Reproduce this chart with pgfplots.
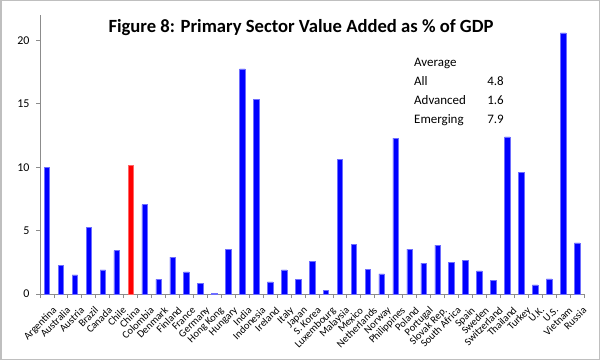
\documentclass[border=0pt]{standalone}
\usepackage{fontspec}
\setmainfont{Carlito}
\usepackage{pgfplots}
\pgfplotsset{compat=1.18}
\definecolor{barblue}{RGB}{0,0,255}
\definecolor{baredge}{RGB}{110,110,255}
\definecolor{axisgray}{RGB}{140,140,140}
\begin{document}
\begin{tikzpicture}
\useasboundingbox (0,0) rectangle (600bp,360bp);
\fill[white] (0,0) rectangle (600bp,360bp);
\draw[black!25, line width=1.5bp] (0.75bp,0.75bp) rectangle (599.25bp,359.25bp);
\begin{axis}[
  at={(40bp,66bp)}, anchor=south west,
  scale only axis, width=544bp, height=279bp,
  xmin=-0.5, xmax=38.5, ymin=0, ymax=22,
  axis lines*=left,
  axis line style={axisgray, line width=0.8bp},
  ybar, bar width=5.5bp, bar shift=0pt,
  ytick={0,5,10,15,20},
  yticklabel style={font=\fontsize{12}{12}\selectfont, xshift=-3bp},
  y tick style={axisgray, line width=0.8bp},
  tick align=outside, major tick length=4bp,
  xtick={0,...,38},
  x tick style={draw=none},
  xticklabels={Argentina,Australia,Austria,Brazil,Canada,Chile,China,Colombia,Denmark,Finland,France,Germany,Hong Kong,Hungary,India,Indonesia,Ireland,Italy,Japan,S. Korea,Luxembourg,Malaysia,Mexico,Netherlands,Norway,Philippines,Poland,Portugal,Slovak Rep.,South Africa,Spain,Sweden,Switzerland,Thailand,Turkey,U.K.,U.S.,Vietnam,Russia},
  xticklabel style={rotate=45, anchor=north east, font=\fontsize{10.5}{10.5}\selectfont, inner sep=0.5bp, xshift=-1.5bp, yshift=-8.5bp},
  extra x ticks={-0.5,0.5,...,38.5},
  extra x tick labels={},
  extra x tick style={x tick style={draw=axisgray, line width=0.8bp}, major tick length=4bp},
  /pgf/number format/assume math mode=true,
  clip=false,
]
\addplot[fill=barblue, draw=baredge, line width=0.5bp] coordinates {
(0,10.0) (1,2.27) (2,1.5) (3,5.27) (4,1.9) (5,3.42) (7,7.04) (8,1.16) (9,2.9) (10,1.74)
(11,0.85) (12,0.05) (13,3.53) (14,17.76) (15,15.34) (16,0.95) (17,1.9) (18,1.16) (19,2.55) (20,0.29)
(21,10.6) (22,3.93) (23,1.95) (24,1.58) (25,12.3) (26,3.53) (27,2.43) (28,3.85) (29,2.48) (30,2.66)
(31,1.82) (32,1.1) (33,12.39) (34,9.59) (35,0.71) (36,1.19) (37,20.6) (38,4.03)
};
\addplot[fill=red, draw=red!60!white, line width=0.5bp] coordinates {(6,10.12)};
\end{axis}
\node[font=\fontsize{18.7}{18.7}\selectfont\bfseries, anchor=base] at (301bp,327bp) {Figure 8: Primary Sector Value Added as \% of GDP};
\begin{scope}[every node/.style={font=\fontsize{13}{13}\selectfont, inner sep=0pt}]
\node[anchor=base west] at (414bp,293.5bp) {Average};
\node[anchor=base west] at (414bp,274bp) {All};
\node[anchor=base west] at (414bp,255.7bp) {Advanced};
\node[anchor=base west] at (414bp,236.7bp) {Emerging};
\node[anchor=base east] at (504bp,274bp) {4.8};
\node[anchor=base east] at (504bp,255.7bp) {1.6};
\node[anchor=base east] at (504bp,236.7bp) {7.9};
\end{scope}
\end{tikzpicture}
\end{document}
